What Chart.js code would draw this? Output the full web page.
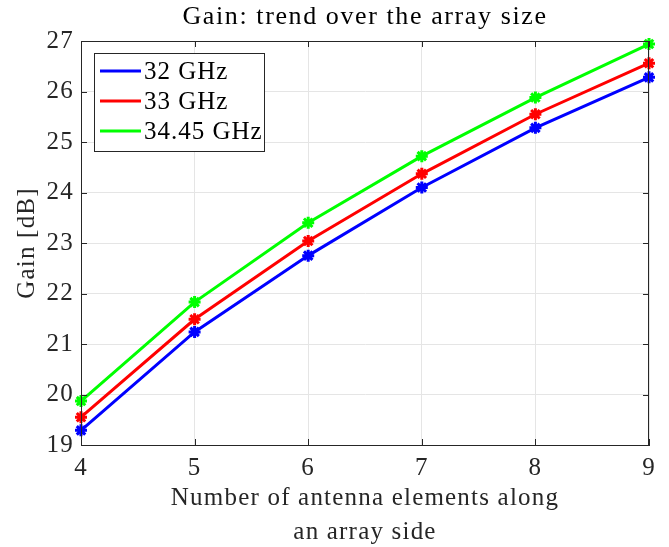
<!DOCTYPE html>
<html>
<head>
<meta charset="utf-8">
<script src="https://cdn.jsdelivr.net/npm/chart.js@4.4.1/dist/chart.umd.min.js"></script>
<style>
  html, body { margin: 0; padding: 0; background: #fff; }
  #wrap { width: 669px; height: 547px; }
</style>
</head>
<body>
<div id="wrap"><canvas id="c"></canvas></div>
<script>
// array side (number of elements)
const sides = [4, 5, 6, 7, 8, 9];
const gain32 = [19.29, 21.24, 22.75, 24.10, 25.28, 26.28];
const gain33 = [19.55, 21.49, 23.04, 24.37, 25.55, 26.56];
const gain3445 = [19.87, 21.83, 23.40, 24.72, 25.88, 26.94];
const seriesLabels = ['32 GHz', '33 GHz', '34.45 GHz'];
const seriesColors = ['#0000ff', '#ff0000', '#00ff00'];
const yTicks = [19, 20, 21, 22, 23, 24, 25, 26, 27];
const chartTitle = 'Gain: trend over the array size';

const serif = "'Liberation Serif', 'DejaVu Serif', serif";
const axisColor = '#262626';

const toPoints = vals => sides.map((s, i) => ({ x: s, y: vals[i] }));

// computer modern is wider than times, widen the text a bit
const spacingPlugin = {
  id: 'spacing',
  beforeDraw(chart) { chart.ctx.letterSpacing = '1.2px'; }
};

// matlab style box, inner ticks, title and legend inside the axes
const boxPlugin = {
  id: 'box',
  afterDraw(chart) {
    const { ctx, chartArea: a, scales } = chart;
    ctx.save();
    ctx.strokeStyle = axisColor;
    ctx.lineWidth = 1;
    ctx.strokeRect(a.left + 0.5, a.top + 0.5, a.right - a.left - 1, a.bottom - a.top);
    const tl = 6;
    ctx.beginPath();
    sides.forEach(v => {
      const x = Math.round(scales.x.getPixelForValue(v)) + 0.5;
      ctx.moveTo(x, a.bottom); ctx.lineTo(x, a.bottom - tl);
      ctx.moveTo(x, a.top); ctx.lineTo(x, a.top + tl);
    });
    yTicks.forEach(v => {
      const y = Math.round(scales.y.getPixelForValue(v)) + 0.5;
      ctx.moveTo(a.left, y); ctx.lineTo(a.left + tl, y);
      ctx.moveTo(a.right, y); ctx.lineTo(a.right - tl, y);
    });
    ctx.stroke();

    // title
    ctx.letterSpacing = '1.6px';
    ctx.fillStyle = '#000';
    ctx.font = '26px ' + serif;
    ctx.textAlign = 'center';
    ctx.textBaseline = 'middle';
    ctx.fillText(chartTitle, (a.left + a.right) / 2, 17);

    // legend
    ctx.letterSpacing = '1px';
    const lx = a.left + 13, ly = a.top + 12, lw = 170, lh = 98;
    ctx.fillStyle = '#fff';
    ctx.fillRect(lx, ly, lw, lh);
    ctx.strokeStyle = axisColor;
    ctx.strokeRect(lx + 0.5, ly + 0.5, lw, lh);
    ctx.font = '25px ' + serif;
    ctx.textAlign = 'left';
    chart.data.datasets.forEach((ds, i) => {
      const y = ly + 18 + i * 30;
      ctx.strokeStyle = ds.borderColor;
      ctx.lineWidth = 3;
      ctx.beginPath();
      ctx.moveTo(lx + 6, y); ctx.lineTo(lx + 47, y);
      ctx.stroke();
      ctx.fillStyle = '#000';
      ctx.fillText(ds.label, lx + 50, y + 1);
    });
    ctx.restore();
  }
};

new Chart(document.getElementById('c'), {
  type: 'line',
  data: {
    datasets: [gain32, gain33, gain3445].map((vals, i) => ({
      label: seriesLabels[i],
      data: toPoints(vals),
      borderColor: seriesColors[i],
      backgroundColor: seriesColors[i],
      borderWidth: 3,
      pointStyle: 'star',
      pointRadius: 6,
      pointBorderWidth: 3,
      tension: 0,
      clip: false
    }))
  },
  options: {
    responsive: true,
    maintainAspectRatio: false,
    animation: false,
    layout: { padding: { left: 0, right: 20, top: 41, bottom: 0 } },
    plugins: {
      legend: { display: false },
      tooltip: { enabled: false },
      title: { display: false }
    },
    scales: {
      x: {
        type: 'linear',
        min: 4,
        max: 9,
        afterBuildTicks: s => { s.ticks = sides.map(v => ({ value: v })); },
        afterFit: s => { s.height = 102; },
        grid: { color: '#e5e5e5', drawTicks: false },
        border: { color: axisColor },
        ticks: { color: axisColor, padding: 8, font: { family: serif, size: 25 } },
        title: {
          display: true,
          text: ['Number of antenna elements along', 'an array side'],
          color: axisColor,
          font: { family: serif, size: 25, lineHeight: 1.38 },
          padding: { top: 0, bottom: -3 }
        }
      },
      y: {
        min: 19,
        max: 27,
        afterBuildTicks: s => { s.ticks = yTicks.map(v => ({ value: v })); },
        afterFit: s => { s.width = 81; },
        grid: { color: '#e5e5e5', drawTicks: false },
        border: { color: axisColor },
        ticks: { color: axisColor, padding: 7, font: { family: serif, size: 25 } },
        title: {
          display: true,
          text: 'Gain [dB]',
          color: axisColor,
          font: { family: serif, size: 25 },
          padding: { top: 12, bottom: 2 }
        }
      }
    }
  },
  plugins: [spacingPlugin, boxPlugin]
});
</script>
</body>
</html>
